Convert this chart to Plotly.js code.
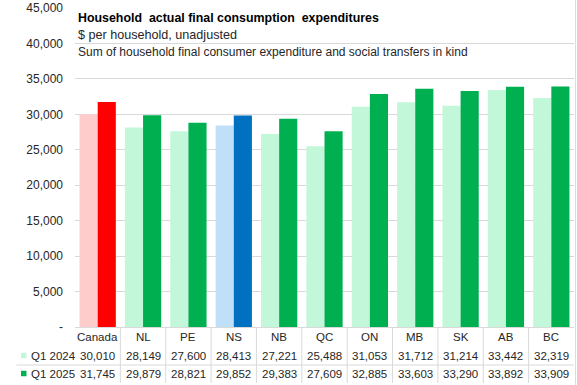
<!DOCTYPE html>
<html>
<head>
<meta charset="utf-8">
<script src="https://cdn.plot.ly/plotly-3.0.1.min.js"></script>
<style>html,body{margin:0;padding:0;background:#fff;}#chart{width:577px;height:385px;}</style>
</head>
<body>
<div id="chart"></div>
<script>
const categories = ["Canada","NL","PE","NS","NB","QC","ON","MB","SK","AB","BC"];
const seriesNames = ["Q1 2024","Q1 2025"];
const q1_2024 = [30010,28149,27600,28413,27221,25488,31053,31712,31214,33442,32319];
const q1_2025 = [31745,29879,28821,29852,29383,27609,32885,33603,33290,33892,33909];
const yTickVals = [0,5000,10000,15000,20000,25000,30000,35000,40000,45000];
const yTickText = ["-","5,000","10,000","15,000","20,000","25,000","30,000","35,000","40,000","45,000"];
const titleText = "Household\u00A0 actual final consumption\u00A0 expenditures";
const subtitle1 = "$ per household, unadjusted";
const subtitle2 = "Sum of household final consumer expenditure and social transfers in kind";

const light = {Canada:"#FFCCCC", NS:"#C0E0FA", other:"#C3F7DA"};
const dark = {Canada:"#FF0000", NS:"#0070C0", other:"#00B050"};
const col = (m,c)=> m[c] || m.other;

const W=577,H=385, L=74.6, R=574.4, T=8, B=327;
const pw=R-L, ph=B-T;
const py = p => (B-p)/ph;   // pixel y -> paper
const px = p => (p-L)/pw;   // pixel x -> paper
const font = "Liberation Sans, Arial, sans-serif";
const fmt = v => v.toLocaleString("en-US");

const traces = [
  {type:"bar", name:seriesNames[0], x:categories, y:q1_2024, marker:{color:categories.map(c=>col(light,c))}, hoverinfo:"none"},
  {type:"bar", name:seriesNames[1], x:categories, y:q1_2025, marker:{color:categories.map(c=>col(dark,c))}, hoverinfo:"none"}
];

const ann = [];
const shapes = [];
const rowY = [py(337), py(355.5), py(373.5)];
const tf = {family:font,size:11.5,color:"#262626"};
categories.forEach((c,i)=>{
  ann.push({xref:"x",yref:"paper",x:c,y:rowY[0],text:c,showarrow:false,xanchor:"center",yanchor:"middle",font:tf});
  ann.push({xref:"x",yref:"paper",x:c,y:rowY[1],text:fmt(q1_2024[i]),showarrow:false,xanchor:"center",yanchor:"middle",font:tf});
  ann.push({xref:"x",yref:"paper",x:c,y:rowY[2],text:fmt(q1_2025[i]),showarrow:false,xanchor:"center",yanchor:"middle",font:tf});
  if(i<categories.length-1){
    shapes.push({type:"line",xref:"x",yref:"paper",x0:i+0.5,x1:i+0.5,y0:0,y1:py(383),line:{color:"#d9d9d9",width:1}});
  }
});
// legend labels in table
[[seriesNames[0],rowY[1],"#C3F7DA",355.5],[seriesNames[1],rowY[2],"#00B050",373.5]].forEach(([t,y,c,pyc])=>{
  ann.push({xref:"paper",yref:"paper",x:px(29),y:y,text:t,showarrow:false,xanchor:"left",yanchor:"middle",font:tf});
  shapes.push({type:"rect",xref:"paper",yref:"paper",x0:px(20.5),x1:px(26),y0:py(pyc-2.75),y1:py(pyc+2.75),fillcolor:c,line:{width:0}});
});
shapes.push({type:"line",xref:"paper",yref:"paper",x0:px(16),x1:1,y0:py(365),y1:py(365),line:{color:"#d9d9d9",width:1}});
shapes.push({type:"line",xref:"paper",yref:"paper",x0:px(576),x1:px(576),y0:py(0),y1:py(385),line:{color:"#d9d9d9",width:1}});

// titles
ann.push({xref:"paper",yref:"paper",x:px(76),y:py(18),text:"<b>"+titleText+"</b>",showarrow:false,xanchor:"left",yanchor:"middle",font:{family:font,size:12.4,color:"#000"}});
ann.push({xref:"paper",yref:"paper",x:px(76),y:py(34.5),text:subtitle1,showarrow:false,xanchor:"left",yanchor:"middle",font:{family:font,size:12.6,color:"#262626"}});
ann.push({xref:"paper",yref:"paper",x:px(76),y:py(51.5),text:subtitle2,showarrow:false,xanchor:"left",yanchor:"middle",font:{family:font,size:12,color:"#262626"}});

const layout = {
  width:W,height:H,
  margin:{l:L,r:W-R,t:T,b:H-B,pad:0},
  paper_bgcolor:"#fff",plot_bgcolor:"#fff",
  showlegend:false,
  barmode:"group",bargap:0.2,bargroupgap:0,
  xaxis:{type:"category",showticklabels:false,ticks:"",showgrid:false,showline:true,linecolor:"#d9d9d9",linewidth:1,zeroline:false,range:[-0.5,categories.length-0.5],fixedrange:true},
  yaxis:{range:[0,45000],tickvals:yTickVals,ticktext:yTickText,showgrid:true,gridcolor:"#d9d9d9",gridwidth:1,zeroline:false,showline:false,ticks:"",ticklen:0,tickfont:{family:font,size:12,color:"#262626"},ticklabelstandoff:11,fixedrange:true},
  annotations:ann,
  shapes:shapes
};
Plotly.newPlot("chart",traces,layout,{displayModeBar:false,staticPlot:true});
</script>
</body>
</html>
